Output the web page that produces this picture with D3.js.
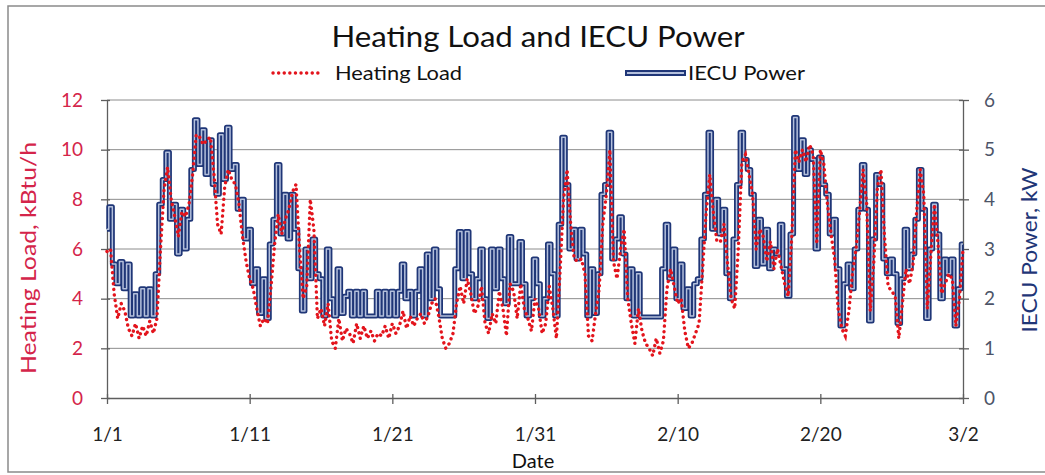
<!DOCTYPE html>
<html>
<head>
<meta charset="utf-8">
<script src="https://cdn.jsdelivr.net/npm/d3@7"></script>
<style>
  body { margin: 0; background: #fff; }
  svg { display: block; font-family: Lato, "Open Sans", sans-serif; }
</style>
</head>
<body>
<svg id="chart" width="1045" height="475"></svg>
<script>
// values every 6 hours (STEP of a day), starting 1/1 00:00
var STEP = 0.25;

// Heating load, kBtu/h (left axis)
var heatingLoad = [
  5.9, 6.0, 4.2, 3.2,   3.8, 3.5, 2.8, 2.5,   3.0, 2.4, 2.9, 2.5,   3.1, 2.6, 3.2, 6.0,
  8.4, 9.3, 8.0, 7.3,   6.5, 7.5, 7.3, 7.8,   9.0, 10.6, 10.5, 10.2, 10.4, 10.5, 9.0, 7.0,
  6.6, 8.5, 9.2, 8.8,   8.6, 7.8, 6.5, 5.5,   4.8, 4.4, 3.6, 2.9,   3.2, 3.0, 4.5, 6.2,
  7.4, 6.6, 7.2, 7.6,   8.3, 8.6, 6.0, 4.0,   4.5, 8.0, 6.8, 3.2,   3.6, 2.9, 3.8, 2.3,
  2.0, 3.2, 2.3, 2.8,   2.6, 2.2, 3.0, 2.4,   2.9, 2.4, 2.7, 2.3,   2.6, 2.5, 2.9, 2.4,
  3.0, 2.6, 2.9, 3.5,   2.8, 3.3, 2.9, 3.2,   3.4, 3.0, 3.3, 3.8,   4.0, 3.3, 2.4, 2.0,
  2.2, 2.6, 3.8, 4.5,   3.8, 4.8, 4.2, 3.4,   3.7, 4.5, 3.0, 2.6,   3.4, 3.0, 4.3, 3.6,
  2.5, 4.6, 4.3, 3.2,   4.6, 3.6, 3.2, 2.7,   4.0, 3.6, 2.6, 3.0,   4.5, 3.6, 2.4, 5.0,
  8.0, 9.2, 7.0, 5.6,   5.5, 5.6, 5.0, 2.5,   2.3, 3.4, 4.4, 7.0,   8.2, 10.0, 5.5, 4.8,
  6.0, 6.8, 4.0, 3.0,   2.2, 3.6, 2.7, 2.2,   2.0, 1.7, 2.4, 1.8,   2.3, 4.4, 5.2, 4.5,
  3.8, 4.0, 2.7, 2.0,   2.2, 2.6, 3.0, 5.2,   7.5, 9.0, 7.5, 6.3,   6.3, 7.0, 5.4, 4.0,
  3.6, 6.0, 9.5, 9.8,   9.0, 8.2, 6.0, 6.8,   6.5, 5.5, 6.3, 5.2,   6.0, 5.3, 4.6, 4.1,
  6.5, 10.0, 9.5, 10.0, 9.5, 10.2, 9.8, 6.2,  10.0, 9.4, 7.8, 6.6,  5.6, 3.6, 2.8, 2.5,
  3.5, 5.0, 6.0, 7.5,   9.2, 7.8, 3.5, 5.5,   8.5, 9.2, 6.5, 4.5,   4.3, 4.1, 2.4, 3.8,
  5.2, 4.6, 5.4, 7.5,   9.2, 8.2, 3.6, 5.8,   7.8, 6.2, 4.2, 4.6,   5.0, 4.8, 2.9, 4.0,
  6.0
];

// IECU power, kW (right axis)
var iecuPower = [
  3.4, 3.85, 2.7, 2.3,  2.75, 2.2, 2.7, 1.65,  2.1, 1.65, 2.2, 1.65,  2.2, 1.65, 2.5, 3.9,
  4.4, 4.95, 3.6, 3.9,  2.9, 3.8, 3.0, 3.6,    4.6, 5.6, 4.7, 5.4,    4.5, 5.2, 4.3, 4.1,
  5.3, 4.4, 5.45, 4.6,  4.7, 3.8, 4.0, 3.2,    3.4, 2.3, 2.6, 1.7,    2.4, 1.6, 3.1, 3.6,
  4.7, 3.3, 4.1, 3.2,   4.1, 3.4, 2.6, 1.75,   3.0, 2.4, 3.2, 2.5,    2.4, 1.65, 3.0, 2.0,
  1.65, 2.6, 1.7, 2.05, 2.15, 1.65, 2.15, 1.65, 2.15, 1.65, 1.65, 1.65, 2.15, 1.65, 2.15, 1.65,
  2.15, 1.65, 2.15, 2.7, 2.0, 2.15, 1.65, 2.15, 2.6, 1.65, 2.9, 2.0,  3.0, 2.2, 1.65, 1.65,
  1.65, 1.65, 2.6, 3.35, 2.4, 3.35, 2.5, 2.0,  2.4, 3.0, 2.0, 1.6,    3.0, 2.2, 3.0, 2.4,
  1.9, 3.25, 2.3, 2.3,  3.15, 2.3, 1.65, 2.0,  2.8, 2.3, 1.65, 2.0,   3.1, 2.5, 1.65, 3.5,
  5.25, 4.3, 3.0, 3.4,  2.8, 3.4, 2.9, 1.65,   2.6, 1.7, 2.5, 4.1,    4.3, 5.35, 2.8, 3.2,
  3.65, 2.9, 2.0, 2.6,  1.65, 2.5, 1.63, 1.63, 1.63, 1.63, 1.63, 1.63, 2.6, 3.5, 2.4, 3.0,
  2.0, 2.7, 1.8, 2.2,   1.65, 2.3, 2.4, 3.2,   4.1, 5.35, 3.4, 4.0,   3.3, 3.8, 2.5, 2.0,
  3.2, 4.3, 5.35, 4.8,  4.6, 4.1, 2.65, 3.6,   2.7, 3.4, 2.6, 3.0,    2.9, 3.5, 2.6, 2.05,
  3.3, 5.65, 4.6, 5.2,  4.5, 5.0, 4.8, 3.0,    4.85, 4.3, 4.1, 3.3,   3.6, 2.6, 1.45, 2.3,
  2.7, 2.2, 3.0, 3.8,   4.7, 3.8, 1.55, 3.2,   4.5, 4.3, 2.8, 2.5,    2.8, 2.5, 1.5, 2.4,
  3.4, 2.6, 2.9, 3.6,   4.6, 3.8, 1.6, 3.0,    3.9, 3.3, 2.0, 2.8,    2.5, 2.8, 1.45, 2.2,
  3.1
];

var dateTicks = [0, 10, 20, 30, 40, 50, 60];
var dateLabels = ["1/1", "1/11", "1/21", "1/31", "2/10", "2/20", "3/2"];
var leftTicks = [0, 2, 4, 6, 8, 10, 12];
var rightTicks = [0, 1, 2, 3, 4, 5, 6];

var RED = "#e3141c", RED_TXT = "#d4244a", NAVY = "#1f3677", CORE = "#b4c0dc", SLATE = "#4d5468";

var svg = d3.select("#chart");

var x = d3.scaleLinear().domain([0, 60]).range([107, 963]);
var yL = d3.scaleLinear().domain([0, 12]).range([398, 100]);
var yR = d3.scaleLinear().domain([0, 6]).range([398, 100]);

// outer frame (right edge runs off the picture)
svg.append("rect")
  .attr("x", 8).attr("y", 6).attr("width", 1045).attr("height", 466)
  .attr("fill", "none").attr("stroke", "#8a8a8a").attr("stroke-width", 1.5);

// gridlines
svg.append("g").selectAll("line")
  .data(leftTicks.slice(1))
  .enter().append("line")
  .attr("x1", x(0)).attr("x2", x(60))
  .attr("y1", function(d) { return yL(d); })
  .attr("y2", function(d) { return yL(d); })
  .attr("stroke", "#8c8c8c").attr("stroke-width", 1);

// axes, ticks cross the axis line like in the original
var xAxis = d3.axisBottom(x).tickValues(dateTicks)
  .tickFormat(function(d, i) { return dateLabels[i]; })
  .tickSizeInner(6).tickSizeOuter(0).tickPadding(24);
var gx = svg.append("g").attr("transform", "translate(0," + yL(0) + ")").call(xAxis);
gx.selectAll(".tick line").attr("y1", -4);

var gl = svg.append("g").attr("transform", "translate(" + x(0) + ",0)")
  .call(d3.axisLeft(yL).tickValues(leftTicks).tickSizeInner(6).tickSizeOuter(0).tickPadding(18));
gl.selectAll(".tick line").attr("x1", 3);

var gr = svg.append("g").attr("transform", "translate(" + x(60) + ",0)")
  .call(d3.axisRight(yR).tickValues(rightTicks).tickFormat(d3.format("d"))
    .tickSizeInner(6).tickSizeOuter(0).tickPadding(15));
gr.selectAll(".tick line").attr("x1", -4);

[gx, gl, gr].forEach(function(g) {
  g.select(".domain").attr("stroke", "#5e5e5e").attr("stroke-width", 1.3);
  g.selectAll(".tick line").attr("stroke", "#5e5e5e").attr("stroke-width", 1.3);
  g.selectAll("text").attr("font-family", "Lato, sans-serif").attr("font-size", 19);
});
gx.selectAll("text").attr("fill", "#222");
gl.selectAll("text").attr("fill", RED_TXT);
gr.selectAll("text").attr("fill", SLATE);

// IECU power: dark outlined line with light core
var iecuLine = d3.line()
  .x(function(d, i) { return x(i * STEP); })
  .y(function(d) { return yR(d); })
  .curve(d3.curveStep);

svg.append("path").datum(iecuPower)
  .attr("d", iecuLine).attr("fill", "none")
  .attr("stroke", NAVY).attr("stroke-width", 5).attr("stroke-linejoin", "round");
svg.append("path").datum(iecuPower)
  .attr("d", iecuLine).attr("fill", "none")
  .attr("stroke", CORE).attr("stroke-width", 1.5).attr("stroke-linejoin", "round");

// Heating load: red dotted line
var heatLine = d3.line()
  .x(function(d, i) { return x(i * STEP); })
  .y(function(d) { return yL(d); });

svg.append("path").datum(heatingLoad)
  .attr("d", heatLine).attr("fill", "none")
  .attr("stroke", RED).attr("stroke-width", 3.4)
  .attr("stroke-linecap", "round").attr("stroke-dasharray", "0.1,5.5");

// title
svg.append("text").attr("x", 538).attr("y", 47).attr("text-anchor", "middle")
  .attr("font-size", 29).attr("fill", "#111")
  .attr("textLength", 413).attr("lengthAdjust", "spacingAndGlyphs")
  .text("Heating Load and IECU Power");

// legend
var lg = svg.append("g");
lg.append("line").attr("x1", 273).attr("x2", 323).attr("y1", 73).attr("y2", 73)
  .attr("stroke", RED).attr("stroke-width", 3.4).attr("stroke-linecap", "round")
  .attr("stroke-dasharray", "0.1,5.5");
lg.append("text").attr("x", 335).attr("y", 80).attr("font-size", 20).attr("fill", "#111")
  .attr("textLength", 127).attr("lengthAdjust", "spacingAndGlyphs")
  .text("Heating Load");
lg.append("line").attr("x1", 625).attr("x2", 686).attr("y1", 73).attr("y2", 73)
  .attr("stroke", NAVY).attr("stroke-width", 6);
lg.append("line").attr("x1", 627).attr("x2", 684).attr("y1", 73).attr("y2", 73)
  .attr("stroke", CORE).attr("stroke-width", 2);
lg.append("text").attr("x", 688).attr("y", 80).attr("font-size", 20).attr("fill", "#111")
  .attr("textLength", 117).attr("lengthAdjust", "spacingAndGlyphs")
  .text("IECU Power");

// axis titles
svg.append("text").attr("x", 533).attr("y", 468).attr("text-anchor", "middle")
  .attr("font-size", 20).attr("fill", "#111").text("Date");
svg.append("text").attr("transform", "translate(36,258) rotate(-90)")
  .attr("text-anchor", "middle").attr("font-size", 22).attr("fill", RED_TXT)
  .attr("textLength", 232).attr("lengthAdjust", "spacingAndGlyphs")
  .text("Heating Load, kBtu/h");
svg.append("text").attr("transform", "translate(1037,250) rotate(-90)")
  .attr("text-anchor", "middle").attr("font-size", 21).attr("fill", NAVY)
  .attr("textLength", 165).attr("lengthAdjust", "spacingAndGlyphs")
  .text("IECU Power, kW");
</script>
</body>
</html>
